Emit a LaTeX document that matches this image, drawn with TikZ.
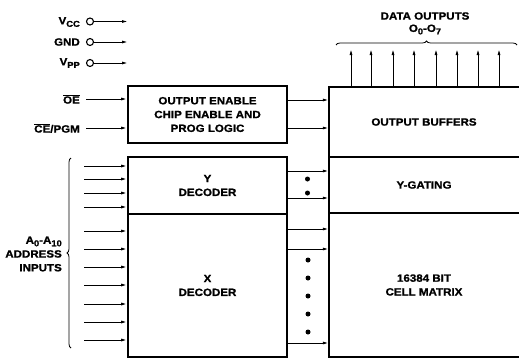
\documentclass[tikz,border=0pt]{standalone}
\usepackage{fontspec}
\setmainfont{Liberation Sans}[FakeStretch=1.1, BoldFeatures={FakeBold=1.2}]
\usetikzlibrary{arrows.meta,decorations.pathreplacing}
\newcommand\lo[1]{\raisebox{-0.45ex}{\fontsize{8.5}{8.5}\selectfont #1}}
\newcommand\ovl[1]{$\overline{\hbox{#1}}$}
\begin{document}
\begin{tikzpicture}[x=1pt,y=-1pt,
  txt/.style={font=\fontsize{10.5}{13.8}\selectfont\bfseries, align=center, inner sep=0pt},
  blk/.style={draw, line width=1.8pt, inner sep=0pt, minimum width=159pt},
  area/.style={inner sep=0pt, minimum width=190pt},
  sig/.style={line width=1pt, -{Latex[length=6pt,width=3pt]}},
  dotm/.style={circle, fill, inner sep=0pt, minimum size=5pt},
  pin/.style={circle, draw, line width=1.1pt, inner sep=0pt, minimum size=7pt},
  lbl/.style={txt, anchor=east},
  brc/.style={decorate, decoration={brace, amplitude=4pt}, line width=0.8pt}
]
\useasboundingbox (0,0) rectangle (519,359);

% left blocks
\node[blk, txt, minimum height=57pt] (logic) at (207.5,114.5) {OUTPUT ENABLE\\CHIP ENABLE AND\\PROG LOGIC};
\node[blk, txt, minimum height=57pt] (ydec) at (207.5,185.5) {Y\\DECODER};
\node[blk, txt, minimum height=143pt] (xdec) at (207.5,285.5) {X\\DECODER};

% right block
\node[area, txt, minimum height=70pt] (obuf) at (424,122) {OUTPUT BUFFERS};
\node[area, txt, minimum height=56pt] (ygat) at (424,185) {Y-GATING};
\node[area, txt, minimum height=144pt] (cmat) at (424,285) {16384 BIT\\CELL MATRIX};
\draw[line width=1.8pt] (obuf.north east) -- (obuf.north west) -- (cmat.south west) -- (cmat.south east);
\draw[line width=1.8pt] (ygat.north west) -- (ygat.north east);
\draw[line width=1.8pt] (ygat.south west) -- (ygat.south east);

% supply pins
\node[lbl] (lvcc) at (80,22) {V\lo{CC}};
\node[lbl] (lgnd) at (80,42) {GND};
\node[lbl] (lvpp) at (80,63) {V\lo{PP}};
\node[pin] (pvcc) at (90,21.5) {};
\node[pin] (pgnd) at (90,42) {};
\node[pin] (pvpp) at (90,63) {};
\coordinate (tvcc) at (128,21.5);
\coordinate (tgnd) at (128,42);
\coordinate (tvpp) at (128,63);
\draw[sig] (pvcc.east) -- (tvcc);
\draw[sig] (pgnd.east) -- (tgnd);
\draw[sig] (pvpp.east) -- (tvpp);

% control inputs
\node[lbl] (loe) at (80,99) {\ovl{OE}};
\node[lbl] (lce) at (80,128) {\ovl{CE}/PGM};
\draw[sig] ([xshift=6pt]loe.east) -- (logic.west |- loe);
\draw[sig] ([xshift=6pt]lce.east) -- (logic.west |- lce);

% logic to buffers
\coordinate (h1) at (300,100);
\coordinate (h2) at (300,128);
\draw[sig] (logic.east |- h1) -- (obuf.west |- h1);
\draw[sig] (logic.east |- h2) -- (obuf.west |- h2);

% address inputs
\foreach \yy [count=\i] in {166,179,193,207} {
  \coordinate (ay\i) at (84,\yy);
  \draw[sig] (ay\i) -- (ydec.west |- ay\i);
}
\foreach \yy [count=\i] in {231,249,267,285,304,322,340} {
  \coordinate (ax\i) at (84,\yy);
  \draw[sig] (ax\i) -- (xdec.west |- ax\i);
}
\coordinate (bb) at (71,348);
\coordinate (bt) at (71,158);
\draw[brc] (bb) -- (bt);
\node[lbl, align=right] (laddr) at (62,254) {A\lo{0}-A\lo{10}\\ADDRESS\\INPUTS};

% decoder outputs
\foreach \yy [count=\i] in {171,198} {
  \coordinate (yo\i) at (300,\yy);
  \draw[sig] (ydec.east |- yo\i) -- (ygat.west |- yo\i);
}
\foreach \yy [count=\i] in {229,249,343} {
  \coordinate (xo\i) at (300,\yy);
  \draw[sig] (xdec.east |- xo\i) -- (cmat.west |- xo\i);
}
\foreach \yy [count=\i] in {179,193} { \node[dotm] (yd\i) at (307.5,\yy) {}; }
\foreach \yy [count=\i] in {260,278,296,314,332} { \node[dotm] (xd\i) at (308,\yy) {}; }

% data outputs
\foreach \xx [count=\i] in {351,371,393,414,436,457,478,499} {
  \coordinate (do\i) at (\xx,49);
  \draw[sig] (obuf.north -| do\i) -- (do\i);
}
\coordinate (bl) at (336,45);
\coordinate (br) at (517,45);
\draw[brc] (bl) -- (br);
\node[txt] (ldata) at (425,16) {DATA OUTPUTS};
\node[txt] (lo07) at (425,29.5) {O\lo{0}-O\lo{7}};
\end{tikzpicture}
\end{document}
